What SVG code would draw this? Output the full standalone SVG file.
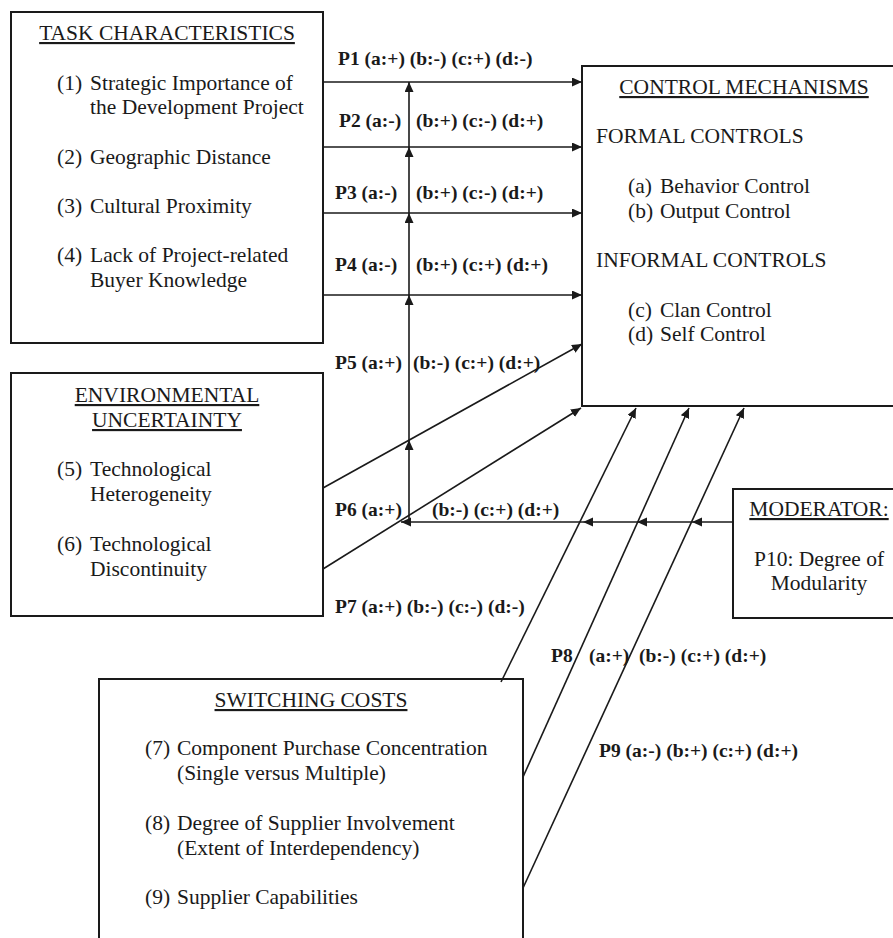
<svg xmlns="http://www.w3.org/2000/svg" width="893" height="938" viewBox="0 0 893 938">
<style>
.box{fill:#fff;stroke:#1a1a1a;stroke-width:2}
text{font-family:'Liberation Serif','DejaVu Serif',serif}
.t{font-size:21.5px;fill:#1a1a1a}
.h{text-decoration:underline}
.m{text-anchor:middle}
.p{font-size:19.5px;font-weight:bold;fill:#1a1a1a}
.ln{fill:none;stroke:#1a1a1a;stroke-width:1.6;marker-end:url(#ah)}
</style>
<defs>
<marker id="ah" markerUnits="userSpaceOnUse" markerWidth="11" markerHeight="10" refX="10" refY="4.5" orient="auto">
<path d="M0,0 L10,4.5 L0,9 z" fill="#1a1a1a"/>
</marker>
</defs>
<rect width="893" height="938" fill="#fff"/>

<g id="task" font-family="Liberation Serif, serif">
<rect class="box" x="11" y="12" width="312" height="331"/>
<text class="t h m" x="167" y="40">TASK CHARACTERISTICS</text>
<text class="t" x="57" y="90">(1)</text><text class="t" x="90" y="90">Strategic Importance of</text>
<text class="t" x="90" y="114">the Development Project</text>
<text class="t" x="57" y="164">(2)</text><text class="t" x="90" y="164">Geographic Distance</text>
<text class="t" x="57" y="213">(3)</text><text class="t" x="90" y="213">Cultural Proximity</text>
<text class="t" x="57" y="262">(4)</text><text class="t" x="90" y="262">Lack of Project-related</text>
<text class="t" x="90" y="287">Buyer Knowledge</text>
</g>

<g id="environment">
<rect class="box" x="11" y="373" width="312" height="243"/>
<text class="t h m" x="167" y="402">ENVIRONMENTAL</text>
<text class="t h m" x="167" y="427">UNCERTAINTY</text>
<text class="t" x="57" y="476">(5)</text><text class="t" x="90" y="476">Technological</text>
<text class="t" x="90" y="501">Heterogeneity</text>
<text class="t" x="57" y="551">(6)</text><text class="t" x="90" y="551">Technological</text>
<text class="t" x="90" y="576">Discontinuity</text>
</g>

<g id="control">
<rect class="box" x="582" y="66" width="320" height="340"/>
<text class="t h m" x="744" y="94">CONTROL MECHANISMS</text>
<text class="t" x="596" y="143">FORMAL CONTROLS</text>
<text class="t" x="628" y="193">(a)</text><text class="t" x="660" y="193">Behavior Control</text>
<text class="t" x="628" y="218">(b)</text><text class="t" x="660" y="218">Output Control</text>
<text class="t" x="596" y="267">INFORMAL CONTROLS</text>
<text class="t" x="628" y="317">(c)</text><text class="t" x="660" y="317">Clan Control</text>
<text class="t" x="628" y="341">(d)</text><text class="t" x="660" y="341">Self Control</text>
</g>

<g id="moderator">
<rect class="box" x="733" y="489" width="170" height="129"/>
<text class="t h m" x="819" y="516">MODERATOR:</text>
<text class="t m" x="819" y="566">P10: Degree of</text>
<text class="t m" x="819" y="590">Modularity</text>
</g>

<g id="switching">
<rect class="box" x="99" y="679" width="424" height="300"/>
<text class="t h m" x="311" y="707">SWITCHING COSTS</text>
<text class="t" x="145" y="755">(7)</text><text class="t" x="177" y="755">Component Purchase Concentration</text>
<text class="t" x="177" y="780">(Single versus Multiple)</text>
<text class="t" x="145" y="830">(8)</text><text class="t" x="177" y="830">Degree of Supplier Involvement</text>
<text class="t" x="177" y="855">(Extent of Interdependency)</text>
<text class="t" x="145" y="904">(9)</text><text class="t" x="177" y="904">Supplier Capabilities</text>
</g>

<g id="connectors">
<line class="ln" x1="323" y1="82" x2="582" y2="82"/>
<line class="ln" x1="323" y1="147" x2="582" y2="147"/>
<line class="ln" x1="323" y1="213" x2="582" y2="213"/>
<line class="ln" x1="323" y1="295" x2="582" y2="295"/>
<line class="ln" x1="409" y1="522" x2="409" y2="440"/>
<line class="ln" x1="409" y1="440" x2="409" y2="295"/>
<line class="ln" x1="409" y1="295" x2="409" y2="213"/>
<line class="ln" x1="409" y1="213" x2="409" y2="147"/>
<line class="ln" x1="409" y1="147" x2="409" y2="82"/>
<line class="ln" x1="323" y1="488" x2="582" y2="344"/>
<line class="ln" x1="323" y1="569" x2="581" y2="408"/>
<line class="ln" x1="733" y1="522" x2="692" y2="522"/>
<line class="ln" x1="692" y1="522" x2="637" y2="522"/>
<line class="ln" x1="637" y1="522" x2="583" y2="522"/>
<line class="ln" x1="583" y1="522" x2="401" y2="522"/>
<line class="ln" x1="501" y1="682" x2="636" y2="408"/>
<line class="ln" x1="523" y1="777" x2="689" y2="408"/>
<line class="ln" x1="523" y1="888" x2="744" y2="408"/>
</g>

<g id="labels">
<text class="p" x="338" y="65">P1 (a:+) (b:-) (c:+) (d:-)</text>
<text class="p" x="339" y="127">P2 (a:-)</text><text class="p" x="416" y="127">(b:+) (c:-) (d:+)</text>
<text class="p" x="335" y="199">P3 (a:-)</text><text class="p" x="416" y="199">(b:+) (c:-) (d:+)</text>
<text class="p" x="335" y="271">P4 (a:-)</text><text class="p" x="416" y="271">(b:+) (c:+) (d:+)</text>
<text class="p" x="335" y="369">P5 (a:+)</text><text class="p" x="413" y="369">(b:-) (c:+) (d:+)</text>
<text class="p" x="335" y="516">P6 (a:+)</text><text class="p" x="432" y="516">(b:-) (c:+) (d:+)</text>
<text class="p" x="335" y="613">P7 (a:+) (b:-) (c:-) (d:-)</text>
<text class="p" x="551" y="662">P8</text><text class="p" x="589" y="662">(a:+)</text><text class="p" x="639" y="662">(b:-) (c:+) (d:+)</text>
<text class="p" x="599" y="757">P9 (a:-) (b:+) (c:+) (d:+)</text>
</g>
</svg>
